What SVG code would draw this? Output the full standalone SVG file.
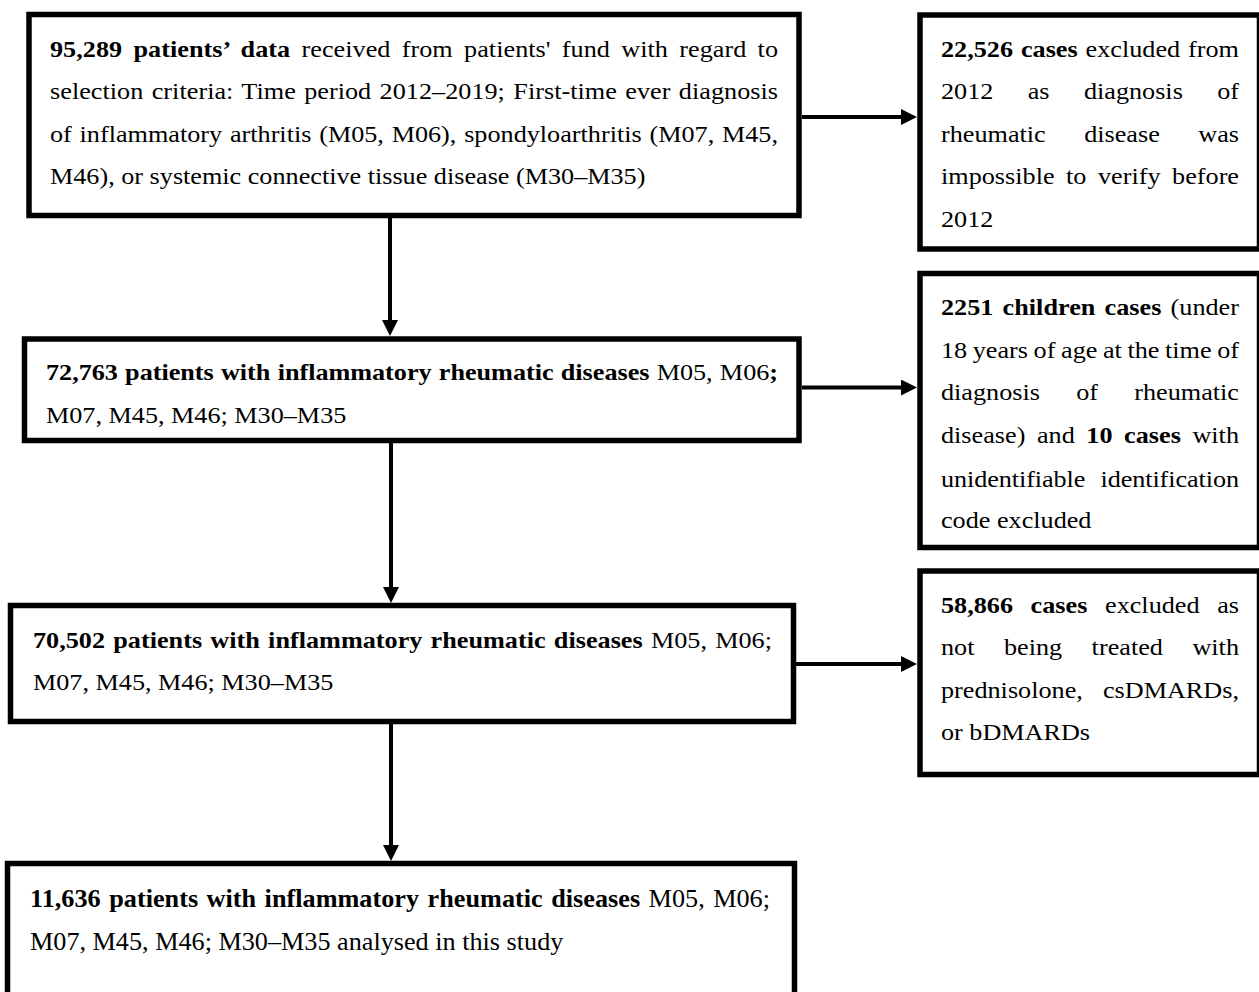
<svg xmlns="http://www.w3.org/2000/svg" width="1259" height="992" viewBox="0 0 1259 992">
<style>
.box{fill:#fff;stroke:#000;stroke-width:5.5}
.con{stroke:#000;stroke-width:4;fill:none}
text{font-family:"Liberation Serif","Times New Roman",serif;font-size:26.2px;fill:#000}
.b{font-weight:bold}
</style>
<defs>
<marker id="ah" markerUnits="userSpaceOnUse" markerWidth="16" markerHeight="16" refX="0" refY="8" orient="auto">
<path d="M0,0 L16,8 L0,16 Z" fill="#000"/>
</marker>
</defs>
<rect width="1259" height="992" fill="#fff"/>
<g id="connectors">
<line class="con" x1="390" y1="218" x2="390" y2="320" marker-end="url(#ah)"/>
<line class="con" x1="391" y1="443" x2="391" y2="587" marker-end="url(#ah)"/>
<line class="con" x1="391" y1="724" x2="391" y2="845" marker-end="url(#ah)"/>
<line class="con" x1="802" y1="117" x2="901" y2="117" marker-end="url(#ah)"/>
<line class="con" x1="802" y1="387.5" x2="901" y2="387.5" marker-end="url(#ah)"/>
<line class="con" x1="796" y1="664" x2="901" y2="664" marker-end="url(#ah)"/>
</g>
<g id="n1">
<rect class="box" x="29" y="14.5" width="770" height="201"/>
<g transform="scale(1 0.88)">
<text x="50" y="64.43" word-spacing="4.69" textLength="728" lengthAdjust="spacing"><tspan class="b">95,289 patients’ data</tspan> received from patients' fund with regard to</text>
<text x="50" y="112.84" word-spacing="1.81" textLength="728" lengthAdjust="spacing">selection criteria: Time period 2012–2019; First-time ever diagnosis</text>
<text x="50" y="161.02" word-spacing="1.18" textLength="728" lengthAdjust="spacing">of inflammatory arthritis (M05, M06), spondyloarthritis (M07, M45,</text>
<text x="50" y="209.43">M46), or systemic connective tissue disease (M30–M35)</text>
</g>
</g>
<g id="n2">
<rect class="box" x="920" y="15" width="339.5" height="234"/>
<g transform="scale(1 0.88)">
<text x="941" y="64.43" word-spacing="1.33" textLength="298" lengthAdjust="spacing"><tspan class="b">22,526 cases</tspan> excluded from</text>
<text x="941" y="112.84" word-spacing="27.8" textLength="298" lengthAdjust="spacing">2012 as diagnosis of</text>
<text x="941" y="161.02" word-spacing="31.9" textLength="298" lengthAdjust="spacing">rheumatic disease was</text>
<text x="941" y="209.43" word-spacing="4.97" textLength="298" lengthAdjust="spacing">impossible to verify before</text>
<text x="941" y="257.95">2012</text>
</g>
</g>
<g id="n3">
<rect class="box" x="24.5" y="339" width="774.5" height="101.5"/>
<g transform="scale(1 0.88)">
<text x="46" y="431.82" word-spacing="0.71" textLength="732" lengthAdjust="spacing"><tspan class="b">72,763 patients with inflammatory rheumatic diseases</tspan> M05, M06<tspan class="b">;</tspan></text>
<text x="46" y="481.25">M07, M45, M46; M30–M35</text>
</g>
</g>
<g id="n4">
<rect class="box" x="920" y="273.5" width="339.5" height="274"/>
<g transform="scale(1 0.88)">
<text x="941" y="357.95" word-spacing="2.56" textLength="298" lengthAdjust="spacing"><tspan class="b">2251 children cases</tspan> (under</text>
<text x="941" y="407.16" word-spacing="-0.98" textLength="298" lengthAdjust="spacing">18 years of age at the time of</text>
<text x="941" y="454.55" word-spacing="29.7" textLength="298" lengthAdjust="spacing">diagnosis of rheumatic</text>
<text x="941" y="503.75" word-spacing="5" textLength="298" lengthAdjust="spacing">disease) and <tspan class="b">10 cases</tspan> with</text>
<text x="941" y="553.07" word-spacing="8.7" textLength="298" lengthAdjust="spacing">unidentifiable identification</text>
<text x="941" y="600.34">code excluded</text>
</g>
</g>
<g id="n5">
<rect class="box" x="10.5" y="605.5" width="783" height="116"/>
<g transform="scale(1 0.88)">
<text x="33" y="736.7" word-spacing="1.71" textLength="739" lengthAdjust="spacing"><tspan class="b">70,502 patients with inflammatory rheumatic diseases</tspan> M05, M06;</text>
<text x="33" y="784.1">M07, M45, M46; M30–M35</text>
</g>
</g>
<g id="n6">
<rect class="box" x="920" y="571" width="339.5" height="203.5"/>
<g transform="scale(1 0.88)">
<text x="941" y="696.9" word-spacing="11" textLength="298" lengthAdjust="spacing"><tspan class="b">58,866 cases</tspan> excluded as</text>
<text x="941" y="744.3" word-spacing="22.9" textLength="298" lengthAdjust="spacing">not being treated with</text>
<text x="941" y="793.5" word-spacing="13.5" textLength="298" lengthAdjust="spacing">prednisolone, csDMARDs,</text>
<text x="941" y="840.9">or bDMARDs</text>
</g>
</g>
<g id="n7">
<rect class="box" x="7.5" y="863.5" width="787" height="145"/>
<g transform="scale(1 0.95)">
<text x="30" y="954.4" word-spacing="1.86" textLength="740" lengthAdjust="spacing"><tspan class="b">11,636 patients with inflammatory rheumatic diseases</tspan> M05, M06;</text>
<text x="30" y="1000.5">M07, M45, M46; M30–M35 analysed in this study</text>
</g>
</g>
</svg>
